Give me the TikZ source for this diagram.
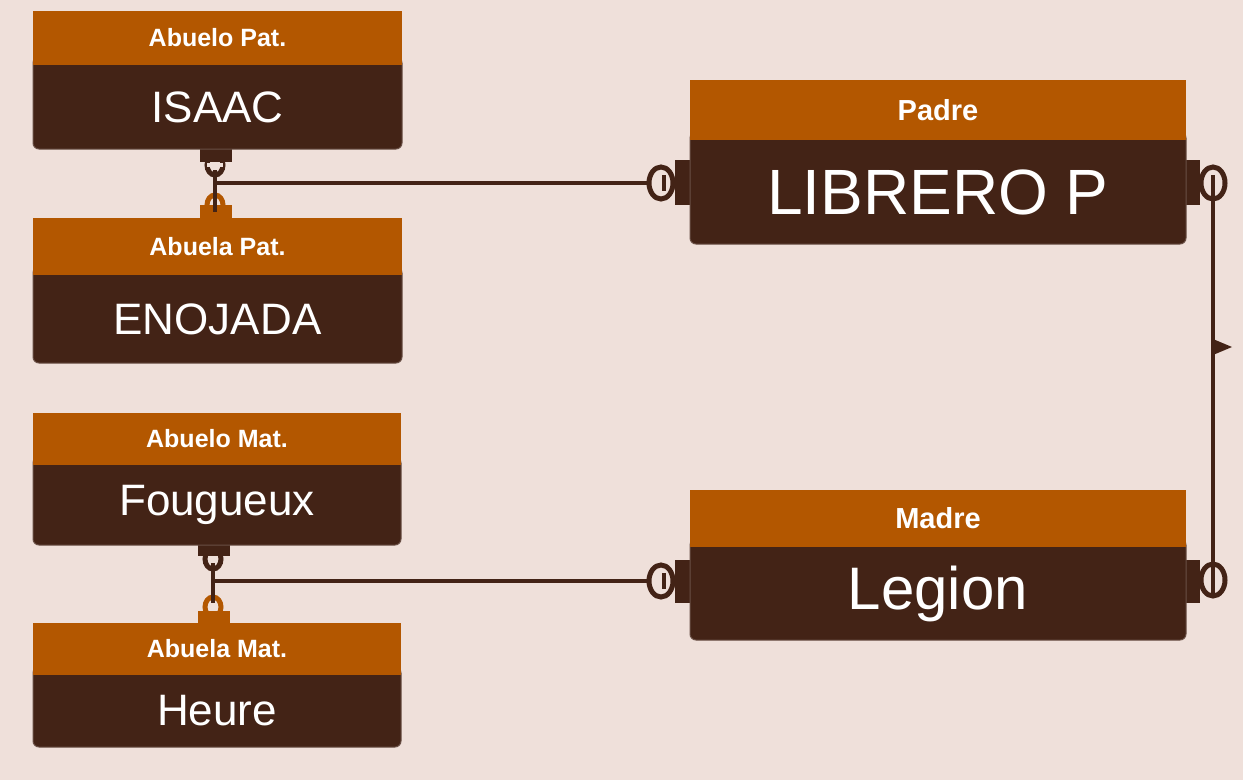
\documentclass[tikz,border=0pt]{standalone}
\usepackage{fontspec}
\setmainfont{Liberation Sans}
\begin{document}
\begin{tikzpicture}[x=1pt,y=-1pt,
  hdr/.style={fill=hc,draw=none,text=white,font=\bfseries\fontsize{25}{28}\selectfont},
  bdy/.style={fill=bc,draw=bc!80!white,line width=1pt,rounded corners=6pt,text=white},
  ln/.style={draw=bc,line width=3.5pt},
  ring/.style={draw=#1,line width=5pt},
  tab/.style={fill=#1,draw=none}]
\definecolor{bg}{HTML}{EFE0DA}
\definecolor{hc}{HTML}{B35700}
\definecolor{bc}{HTML}{432316}
\useasboundingbox (0,0) rectangle (1243,780);
\fill[bg] (0,0) rectangle (1243,780);
% generic box macro via nodes
\newcommand{\ebox}[8]{% name, x1,x2, yh, ym, yb, header, body (fontsize)
  \draw[bdy] (#2,#5-8) rectangle (#3,#6);
  \fill[hc] (#2,#4) rectangle (#3,#5);
  \node[text=white,font=\bfseries\fontsize{25}{28}\selectfont] (#1h) at ({(#2+#3)/2},{(#4+#5)/2}) {#7};
  \node[text=white] (#1) at ({(#2+#3)/2},{(#5+#6)/2}) {#8};}
% tabs/rings first (behind)
\fill[bc] (200,146) rectangle (232,162);
\fill[hc] (200,205) rectangle (232,221);
\fill[bc] (198,543) rectangle (230,556);
\fill[hc] (198,611) rectangle (230,626);
\fill[bc] (675,160) rectangle (695,205);
\fill[bc] (1182,160) rectangle (1200,205);
\fill[bc] (675,560) rectangle (695,603);
\fill[bc] (1182,560) rectangle (1200,603);
\ebox{ap}{33}{402}{11}{65}{149}{Abuelo Pat.}{\fontsize{44}{48}\selectfont ISAAC}
\ebox{bp}{33}{402}{218}{275}{363}{Abuela Pat.}{\fontsize{44}{48}\selectfont ENOJADA}
\ebox{am}{33}{401}{413}{465}{545}{Abuelo Mat.}{\fontsize{44}{48}\selectfont Fougueux}
\ebox{bm}{33}{401}{623}{675}{747}{Abuela Mat.}{\fontsize{44}{48}\selectfont Heure}
\ebox{pa}{690}{1186}{80}{140}{244}{\fontsize{29}{32}\selectfont Padre}{\fontsize{64}{68}\selectfont LIBRERO P}
\ebox{ma}{690}{1186}{490}{547}{640}{\fontsize{29}{32}\selectfont Madre}{\fontsize{60}{64}\selectfont Legion}
% rings
\draw[ring=bc] (215,165) ellipse (8 and 10);
\draw[ring=hc] (215,205) ellipse (8 and 10);
\draw[ring=bc] (213,559) ellipse (8 and 10);
\draw[ring=hc] (213,607) ellipse (8 and 10);
\fill[bg] (207,163) rectangle (223,167);
\coordinate (pj) at (215,183);
\coordinate (mj) at (213,581);
\coordinate (rt) at (1213,183);
\coordinate (rb) at (1213,580);
\draw[ln] (215,170) -- (215,212);
\draw[ln] (213,563) -- (213,603);
\draw[ln] (pj) -- (665,183);
\draw[ln] (mj) -- (665,581);
\draw[ln] (rt) -- (rb);
\fill[bc] (1213,339) -- (1232,347) -- (1213,355) -- cycle;
\draw[ring=bc,fill=bg] (661,183) ellipse (12 and 16);
\draw[ring=bc,fill=bg] (661,581) ellipse (12 and 16);
\draw[ring=bc] (1213,183) ellipse (12 and 16);
\draw[ring=bc] (1213,580) ellipse (12 and 16);
\draw[ln] (664,175) -- (664,191);
\draw[ln] (664,573) -- (664,589);
\draw[ln] (1213,175) -- (1213,200);
\draw[ln] (1213,560) -- (1213,595);
\end{tikzpicture}
\end{document}
